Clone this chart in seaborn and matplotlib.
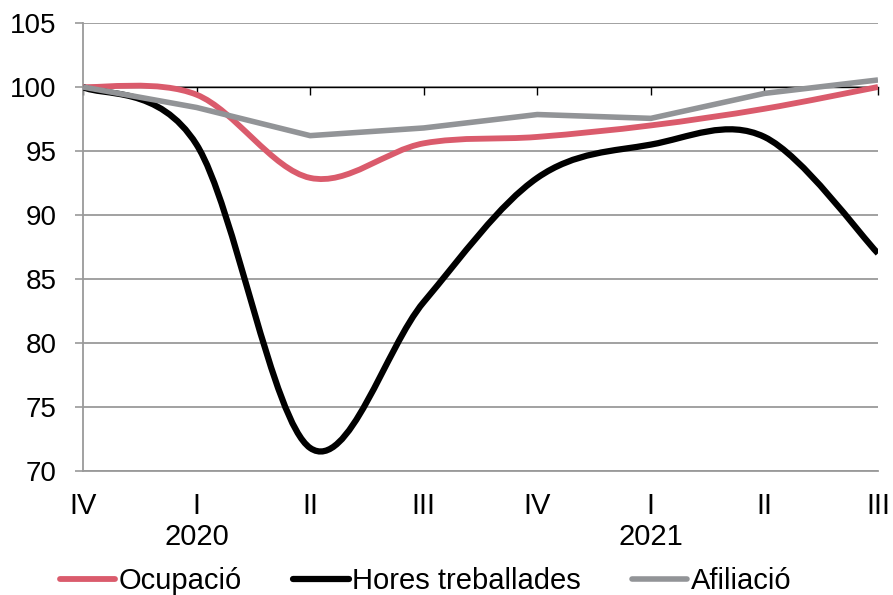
import numpy as np
import pandas as pd
import matplotlib
matplotlib.use('Agg')
import matplotlib.pyplot as plt
import seaborn as sns
from matplotlib.path import Path
from matplotlib.patches import PathPatch
from matplotlib.lines import Line2D


quarters = ['IV', 'I', 'II', 'III', 'IV', 'I', 'II', 'III']
years = {1: '2020', 5: '2021'}

ocupacio = [100.0, 99.4, 92.9, 95.6, 96.1, 97.0, 98.3, 100.0]
hores = [100.0, 95.5, 71.8, 83.2, 92.9, 95.5, 96.1, 87.0]
afiliacio = [100.0, 98.4, 96.2, 96.8, 97.85, 97.55, 99.5, 100.55]

RED = '#DA5B6C'
BLACK = '#000000'
GRAY = '#929497'
GRID = '#9A9A9A'

sns.set_theme(style='white')
plt.rcParams['font.family'] = ['Liberation Sans', 'DejaVu Sans']
plt.rcParams['text.color'] = 'black'
plt.rcParams['xtick.color'] = 'black'
plt.rcParams['ytick.color'] = 'black'


def smooth_path(xs, ys):
    # excel-like smoothed line: cubic bezier through the points
    pts = np.column_stack([xs, ys]).astype(float)
    n = len(pts)
    verts = [pts[0]]
    codes = [Path.MOVETO]
    for i in range(n - 1):
        p0 = pts[max(i - 1, 0)]
        p1 = pts[i]
        p2 = pts[i + 1]
        p3 = pts[min(i + 2, n - 1)]
        verts += [p1 + (p2 - p0) / 6, p2 - (p3 - p1) / 6, p2]
        codes += [Path.CURVE4] * 3
    return Path(verts, codes)


x = np.arange(len(quarters))
df = pd.DataFrame({'x': x, 'Afiliació': afiliacio})

fig = plt.figure(figsize=(8.93, 5.95), dpi=100)
ax = fig.add_axes([83 / 893, 1 - 471 / 595, (878 - 83) / 893, (471 - 23) / 595])

ax.set_xlim(0, len(quarters) - 1)
ax.set_ylim(70, 105)
ax.set_yticks(np.arange(70, 106, 5))
ax.yaxis.grid(True, color=GRID, lw=1.3)
ax.set_axisbelow(True)

for vals, color, lw in [(ocupacio, RED, 4.2), (hores, BLACK, 4.5)]:
    ax.add_patch(PathPatch(smooth_path(x, vals), fill=False, edgecolor=color,
                           lw=lw, capstyle='butt', zorder=3))

sns.lineplot(data=df, x='x', y='Afiliació', color=GRAY, lw=4.0, ax=ax,
             zorder=4, solid_capstyle='butt')

labels = [q + ('\n' + years[i] if i in years else '') for i, q in enumerate(quarters)]
ax.set_xticks(x)
ax.set_xticklabels(labels, fontsize=21, linespacing=1.15)
ax.tick_params(axis='x', length=0, pad=15)
ax.tick_params(axis='y', direction='out', length=6, width=1.2, color=GRID,
               labelcolor='black', labelsize=20, pad=13, left=True)
ax.set_xlabel('')
ax.set_ylabel('')

for side in ['top', 'right']:
    ax.spines[side].set_visible(False)
ax.spines['left'].set_color(GRID)
ax.spines['left'].set_linewidth(1.3)
ax.spines['bottom'].set_color(GRID)
ax.spines['bottom'].set_linewidth(1.3)

# category axis crosses at 100
sec = ax.secondary_xaxis((100 - 70) / (105 - 70))
sec.set_alignment('bottom')
sec.set_xticks(x)
sec.tick_params(axis='x', direction='out', length=6, width=1, color=BLACK,
                labelbottom=False, labeltop=False)
sec.spines['bottom'].set_color(BLACK)
sec.spines['bottom'].set_linewidth(1)
sec.set_zorder(2)

handles = [Line2D([], [], color=RED, lw=4.2),
           Line2D([], [], color=BLACK, lw=4.5),
           Line2D([], [], color=GRAY, lw=4.0)]
fig.legend(handles, ['Ocupació', 'Hores treballades', 'Afiliació'],
           loc='center left', bbox_to_anchor=(60 / 893, 1 - 581 / 595),
           bbox_transform=fig.transFigure, ncol=3, frameon=False, fontsize=21,
           handlelength=1.9, handletextpad=0.12, columnspacing=1.75,
           borderpad=0, borderaxespad=0)

fig.savefig('out.png', dpi=100)
